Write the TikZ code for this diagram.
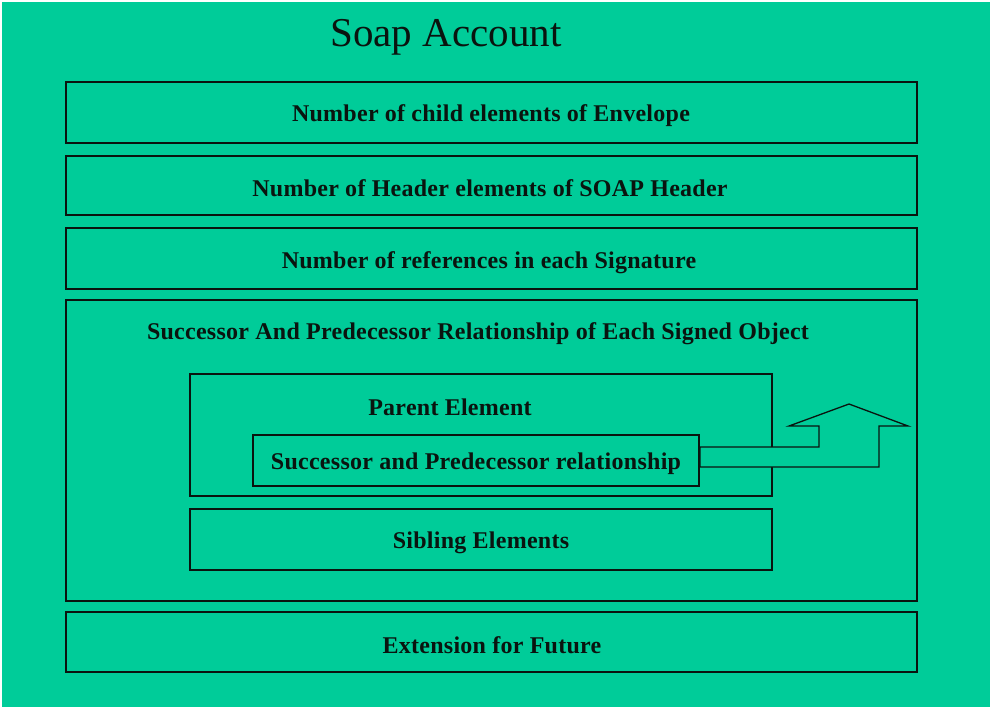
\documentclass[tikz,border=0pt]{standalone}
\usepackage{fontspec}
\setmainfont{Liberation Serif}
\definecolor{bggreen}{RGB}{0,204,153}
\definecolor{ink}{RGB}{10,20,15}
\begin{document}
\begin{tikzpicture}[x=1pt,y=-1pt,
  panel/.style={draw=ink,line width=1.3pt,fill=none},
  label/.style={font=\fontsize{24}{27}\selectfont\bfseries\addfontfeatures{LetterSpace=1.1},text=ink,inner sep=0pt,anchor=center}]
% page and background
\fill[white] (0,0) rectangle (990,707);
\fill[bggreen] (1.5,2) rectangle (990,707);
\useasboundingbox (0,0) rectangle (990,707);

% title
\node[font=\fontsize{41}{46}\selectfont,text=ink,inner sep=0pt] (title) at (446,37) {Soap Account};

% outer rows
\draw[panel] (66,82) rectangle (917,143);
\node[label] (envelope) at (491,116) {Number of child elements of Envelope};
\draw[panel] (66,156) rectangle (917,215);
\node[label] (header) at (490,188) {Number of Header elements of SOAP Header};
\draw[panel] (66,228) rectangle (917,289);
\node[label] (refs) at (489,263) {Number of references in each Signature};
\draw[panel] (66,300) rectangle (917,601);
\node[label] (relation) at (478,334) {Successor And Predecessor Relationship of Each Signed Object};
\draw[panel] (66,612) rectangle (917,672);
\node[label] (future) at (492,645) {Extension for Future};

% inner boxes
\draw[panel] (190,374) rectangle (772,496);
\node[label] (parent) at (450,407) {Parent Element};
\draw[panel] (253,435) rectangle (699,486);
\node[label] (succ) at (476,464) {Successor and Predecessor relationship};
\draw[panel] (190,509) rectangle (772,570);
\node[label] (sibling) at (481,543) {Sibling Elements};

% bent arrow leaving the inner box
\draw[ink,line width=1.3pt,fill=bggreen,line join=miter]
  (700,447) -- (819,447) -- (819,426) -- (789,426) -- (849,404)
  -- (908,426) -- (879,426) -- (879,467) -- (700,467) -- cycle;
\end{tikzpicture}
\end{document}
